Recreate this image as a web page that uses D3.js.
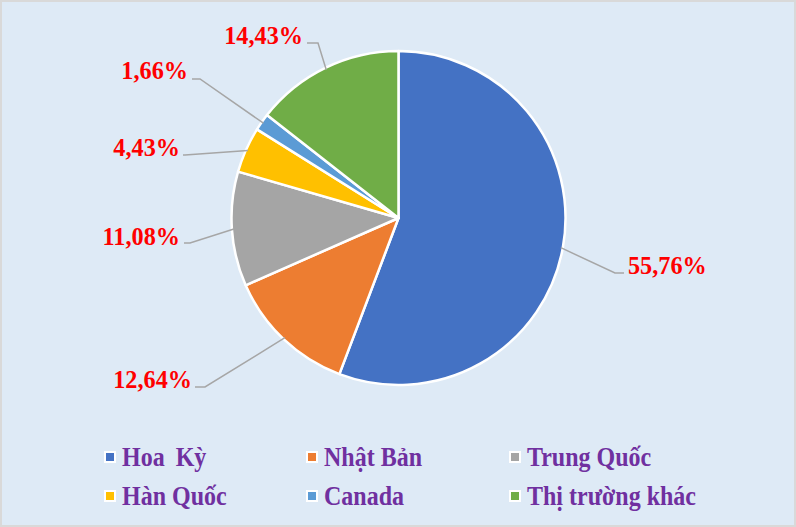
<!DOCTYPE html>
<html><head><meta charset="utf-8">
<script src="https://cdn.jsdelivr.net/npm/d3@7/dist/d3.min.js"></script>
<style>html,body{margin:0;padding:0;background:#fff}</style>
</head><body><svg id="c" width="796" height="527"></svg>
<script>
const categories = ["Hoa Kỳ","Nhật Bản","Trung Quốc","Hàn Quốc","Canada","Thị trường khác"];
const values = [55.76, 12.64, 11.08, 4.43, 1.66, 14.43];
const labels = ["55,76%","12,64%","11,08%","4,43%","1,66%","14,43%"];
const colors = ["#4472C4","#ED7D31","#A5A5A5","#FFC000","#5B9BD5","#70AD47"];

// layout: label text anchor (x, baseline) and leader elbow
const labelPos = [
  {tx:628, ty:274, ex:[615,624], ey:273, side:"start"},
  {tx:192, ty:388, ex:[205,195], ey:387, side:"end"},
  {tx:180, ty:245, ex:[190,184], ey:243, side:"end"},
  {tx:180, ty:156, ex:[185,183], ey:155, side:"end"},
  {tx:188, ty:79,  ex:[200,192], ey:79, side:"end"},
  {tx:303, ty:44,  ex:[318,307], ey:43, side:"end"}
];

const svg = d3.select("#c");
svg.append("rect").attr("x",0).attr("y",0).attr("width",796).attr("height",527).attr("fill","#D9D9D9");
svg.append("rect").attr("x",2).attr("y",2).attr("width",792).attr("height",523).attr("fill","#DEEAF6");

const cx = 398.5, cy = 218, r = 167;
const pie = d3.pie().sort(null).value(d=>d)(values);
const arc = d3.arc().innerRadius(0).outerRadius(r);
const g = svg.append("g").attr("transform",`translate(${cx},${cy})`);
g.selectAll("path").data(pie).join("path")
  .attr("d",arc).attr("fill",(d,i)=>colors[i])
  .attr("stroke","#fff").attr("stroke-width",2.5).attr("stroke-linejoin","round");

// leader lines and labels
pie.forEach((d,i)=>{
  const a = (d.startAngle+d.endAngle)/2;
  const px = cx + Math.sin(a)*(r-2), py = cy - Math.cos(a)*(r-2);
  const L = labelPos[i];
  svg.append("polyline")
    .attr("points",`${px},${py} ${L.ex[0]},${L.ey} ${L.ex[1]},${L.ey}`)
    .attr("fill","none").attr("stroke","#A6A6A6").attr("stroke-width",1.5);
  svg.append("text")
    .attr("transform",`translate(${L.tx},${L.ty}) scale(1.01,1.05)`)
    .attr("text-anchor",L.side)
    .attr("font-family","'Liberation Serif','Times New Roman',serif")
    .attr("font-weight","bold").attr("font-size",24).attr("fill","#FF0000")
    .text(labels[i]);
});

// legend
const colX = [110, 312, 515];
const rowY = [457, 496];
categories.forEach((c,i)=>{
  const x = colX[i%3], y = rowY[Math.floor(i/3)];
  svg.append("rect").attr("x",x-6).attr("y",y-6).attr("width",12).attr("height",12).attr("fill","#fff");
  svg.append("rect").attr("x",x-4).attr("y",y-4).attr("width",8).attr("height",8).attr("fill",colors[i]);
  svg.append("text")
    .attr("transform",`translate(${x+12},${y+9}) scale(1,1.12)`)
    .attr("font-family","'Liberation Serif','Times New Roman',serif")
    .attr("font-weight","bold").attr("font-size",24).attr("fill","#7030A0")
    .attr("word-spacing", i===0 ? 5 : 0)
    .text(c);
});
</script></body></html>
